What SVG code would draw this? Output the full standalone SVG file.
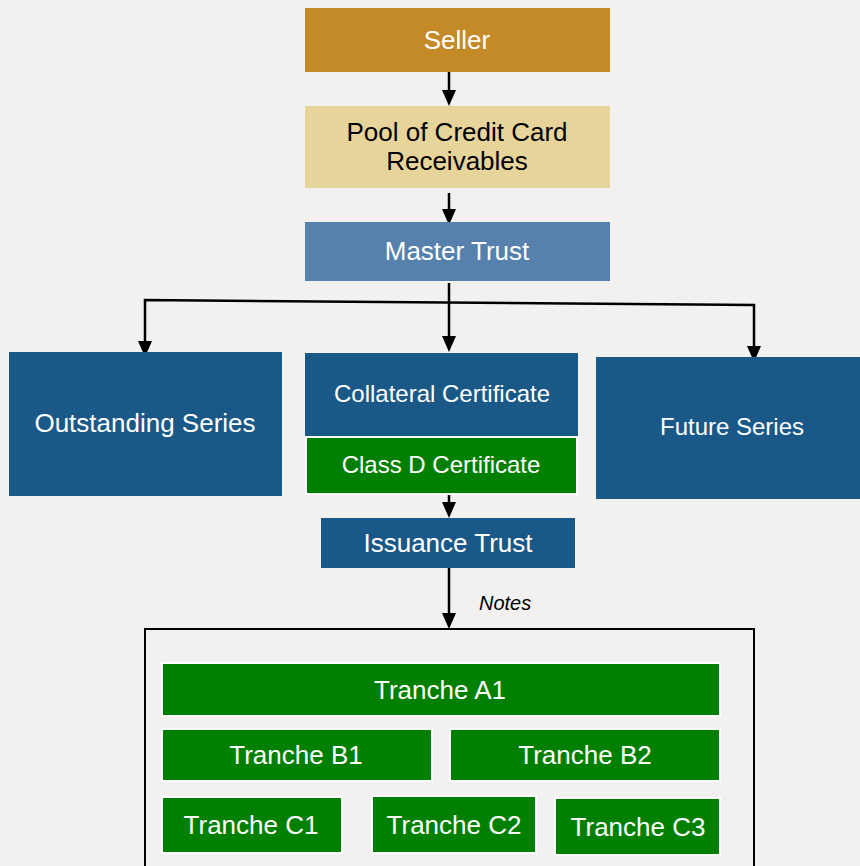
<svg xmlns="http://www.w3.org/2000/svg" width="860" height="866" viewBox="0 0 860 866">
<defs>
<style>
text{font-family:"Liberation Sans",Arial,sans-serif;text-anchor:middle;}
.w{fill:#fff;}
.k{fill:#000;}
.f26{font-size:26px;}
.f24{font-size:24px;}
.blue{fill:#1A5987;}
.green{fill:#007F00;stroke:#fff;stroke-width:2;}
.con{stroke:#000;stroke-width:2.5;fill:none;}
</style>
</defs>
<rect x="0" y="0" width="860" height="866" fill="#F2F1EF"/>
<g id="connectors">
<line class="con" x1="449" y1="72" x2="449" y2="91"/>
<path d="M442,90 L456,90 L449,106 Z" class="k"/>
<line class="con" x1="449" y1="193" x2="449" y2="210"/>
<path d="M442,209 L456,209 L449,225 Z" class="k"/>
<line class="con" x1="449" y1="283" x2="449" y2="337"/>
<path d="M442,336 L456,336 L449,352 Z" class="k"/>
<polyline class="con" points="145,342 145,300 754,305 754,347"/>
<path d="M138,341 L152,341 L145,357 Z" class="k"/>
<path d="M747,346 L761,346 L754,362 Z" class="k"/>
<line class="con" x1="449" y1="495" x2="449" y2="503"/>
<path d="M442,502 L456,502 L449,518 Z" class="k"/>
<line class="con" x1="449" y1="568" x2="449" y2="614"/>
<path d="M442,613 L456,613 L449,629 Z" class="k"/>
<text x="479" y="610" style="font-size:20px;font-style:italic;text-anchor:start" class="k">Notes</text>
</g>
<g id="seller">
<rect x="305" y="8" width="305" height="64" fill="#C58A28"/>
<text x="457" y="49" class="w f26">Seller</text>
</g>
<g id="pool">
<rect x="305" y="106" width="305" height="82" fill="#E6D49B"/>
<text x="457" y="141" class="k f26">Pool of Credit Card</text>
<text x="457" y="170" class="k f26">Receivables</text>
</g>
<g id="master-trust">
<rect x="305" y="222" width="305" height="59" fill="#5581AC"/>
<text x="457" y="260" class="w f26">Master Trust</text>
</g>
<g id="outstanding-series">
<rect x="9" y="352" width="273" height="144" class="blue"/>
<text x="145" y="432" class="w f26">Outstanding Series</text>
</g>
<g id="collateral-certificate">
<rect x="305" y="353" width="273" height="83" class="blue"/>
<text x="442" y="402" class="w f24">Collateral Certificate</text>
</g>
<g id="class-d-certificate">
<rect x="306" y="437" width="271" height="57" class="green"/>
<text x="441" y="473" class="w f24">Class D Certificate</text>
</g>
<g id="future-series">
<rect x="596" y="357" width="264" height="142" class="blue"/>
<text x="732" y="435" class="w f24">Future Series</text>
</g>
<g id="issuance-trust">
<rect x="321" y="518" width="254" height="50" class="blue"/>
<text x="448" y="552" class="w f26">Issuance Trust</text>
</g>
<g id="notes-box">
<rect x="145" y="629" width="609" height="250" fill="none" stroke="#000" stroke-width="2"/>
</g>
<g id="tranche-a1">
<rect x="162" y="663" width="558" height="53" class="green"/>
<text x="440" y="699" class="w f26">Tranche A1</text>
</g>
<g id="tranche-b1">
<rect x="162" y="729" width="270" height="52" class="green"/>
<text x="296" y="764" class="w f26">Tranche B1</text>
</g>
<g id="tranche-b2">
<rect x="450" y="729" width="270" height="52" class="green"/>
<text x="585" y="764" class="w f26">Tranche B2</text>
</g>
<g id="tranche-c1">
<rect x="162" y="797" width="180" height="56" class="green"/>
<text x="251" y="834" class="w f26">Tranche C1</text>
</g>
<g id="tranche-c2">
<rect x="372" y="796" width="164" height="57" class="green"/>
<text x="454" y="834" class="w f26">Tranche C2</text>
</g>
<g id="tranche-c3">
<rect x="555" y="798" width="165" height="57" class="green"/>
<text x="638" y="836" class="w f26">Tranche C3</text>
</g>
</svg>
